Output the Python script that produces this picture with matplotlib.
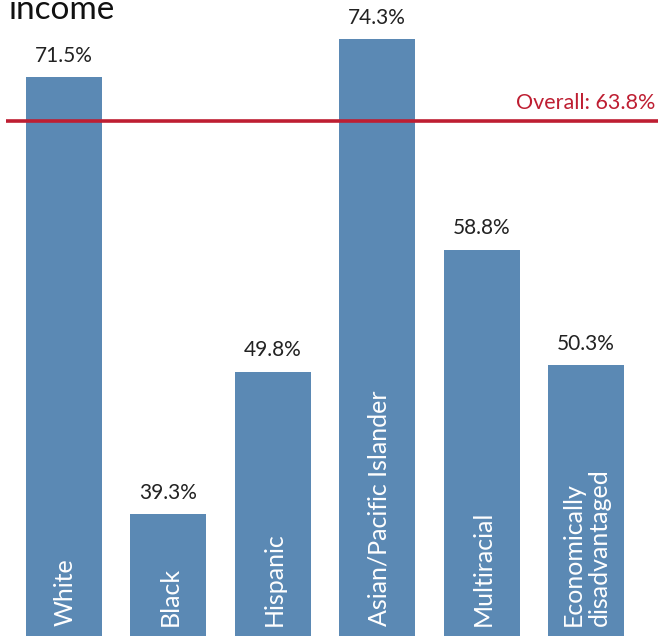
import matplotlib
matplotlib.use("Agg")
import matplotlib.pyplot as plt
import numpy as np

categories = ["White", "Black", "Hispanic", "Asian/Pacific Islander", "Multiracial",
              "Economically\ndisadvantaged"]
values = [71.5, 39.3, 49.8, 74.3, 58.8, 50.3]
overall = 63.8
title_visible = "income"

plt.rcParams['font.family'] = ['Lato', 'DejaVu Sans']

fig = plt.figure(figsize=(6.58, 6.36), dpi=100)
ax = fig.add_axes([0, 0, 1, 1])
x = np.arange(len(categories))
bar_color = "#5B89B4"
ax.bar(x, values, width=0.728, color=bar_color, zorder=2)
ax.set_xlim(-0.613, 5.69)
ax.set_ylim(30.3, 77.2)
ax.axis('off')

for xi, v in zip(x, values):
    ax.annotate(f"{v}%", (xi, v), xytext=(0, 8), textcoords='offset points',
                ha='center', va='bottom', fontsize=15, color='#222222')

for xi, c in zip(x, categories):
    ax.annotate(c, (xi, 30.3), xytext=(1 if '\n' not in c else 0, 7), textcoords='offset points',
                ha='center', va='bottom', rotation=90, fontsize=18, color='white',
                multialignment='left', linespacing=1.15)

# overall reference line (secondary scale as in the original)
ax2 = ax.twinx()
ax2.set_ylim(0, 78.8)
ax2.set_xlim(-0.613, 5.69)
ax2.axis('off')
ax2.plot([-0.56, 5.69], [overall, overall], color='#BE1E32', lw=2.6, solid_capstyle='butt')
ax2.annotate(f"Overall: {overall}%", (5.69, overall), xytext=(-2, 6), textcoords='offset points',
             ha='right', va='bottom', fontsize=15.5, color='#BE1E32')

fig.text(8/658, 1 - 19/636, title_visible, fontsize=24, color='#111111', va='baseline', ha='left')

fig.savefig("out.png", dpi=100)
